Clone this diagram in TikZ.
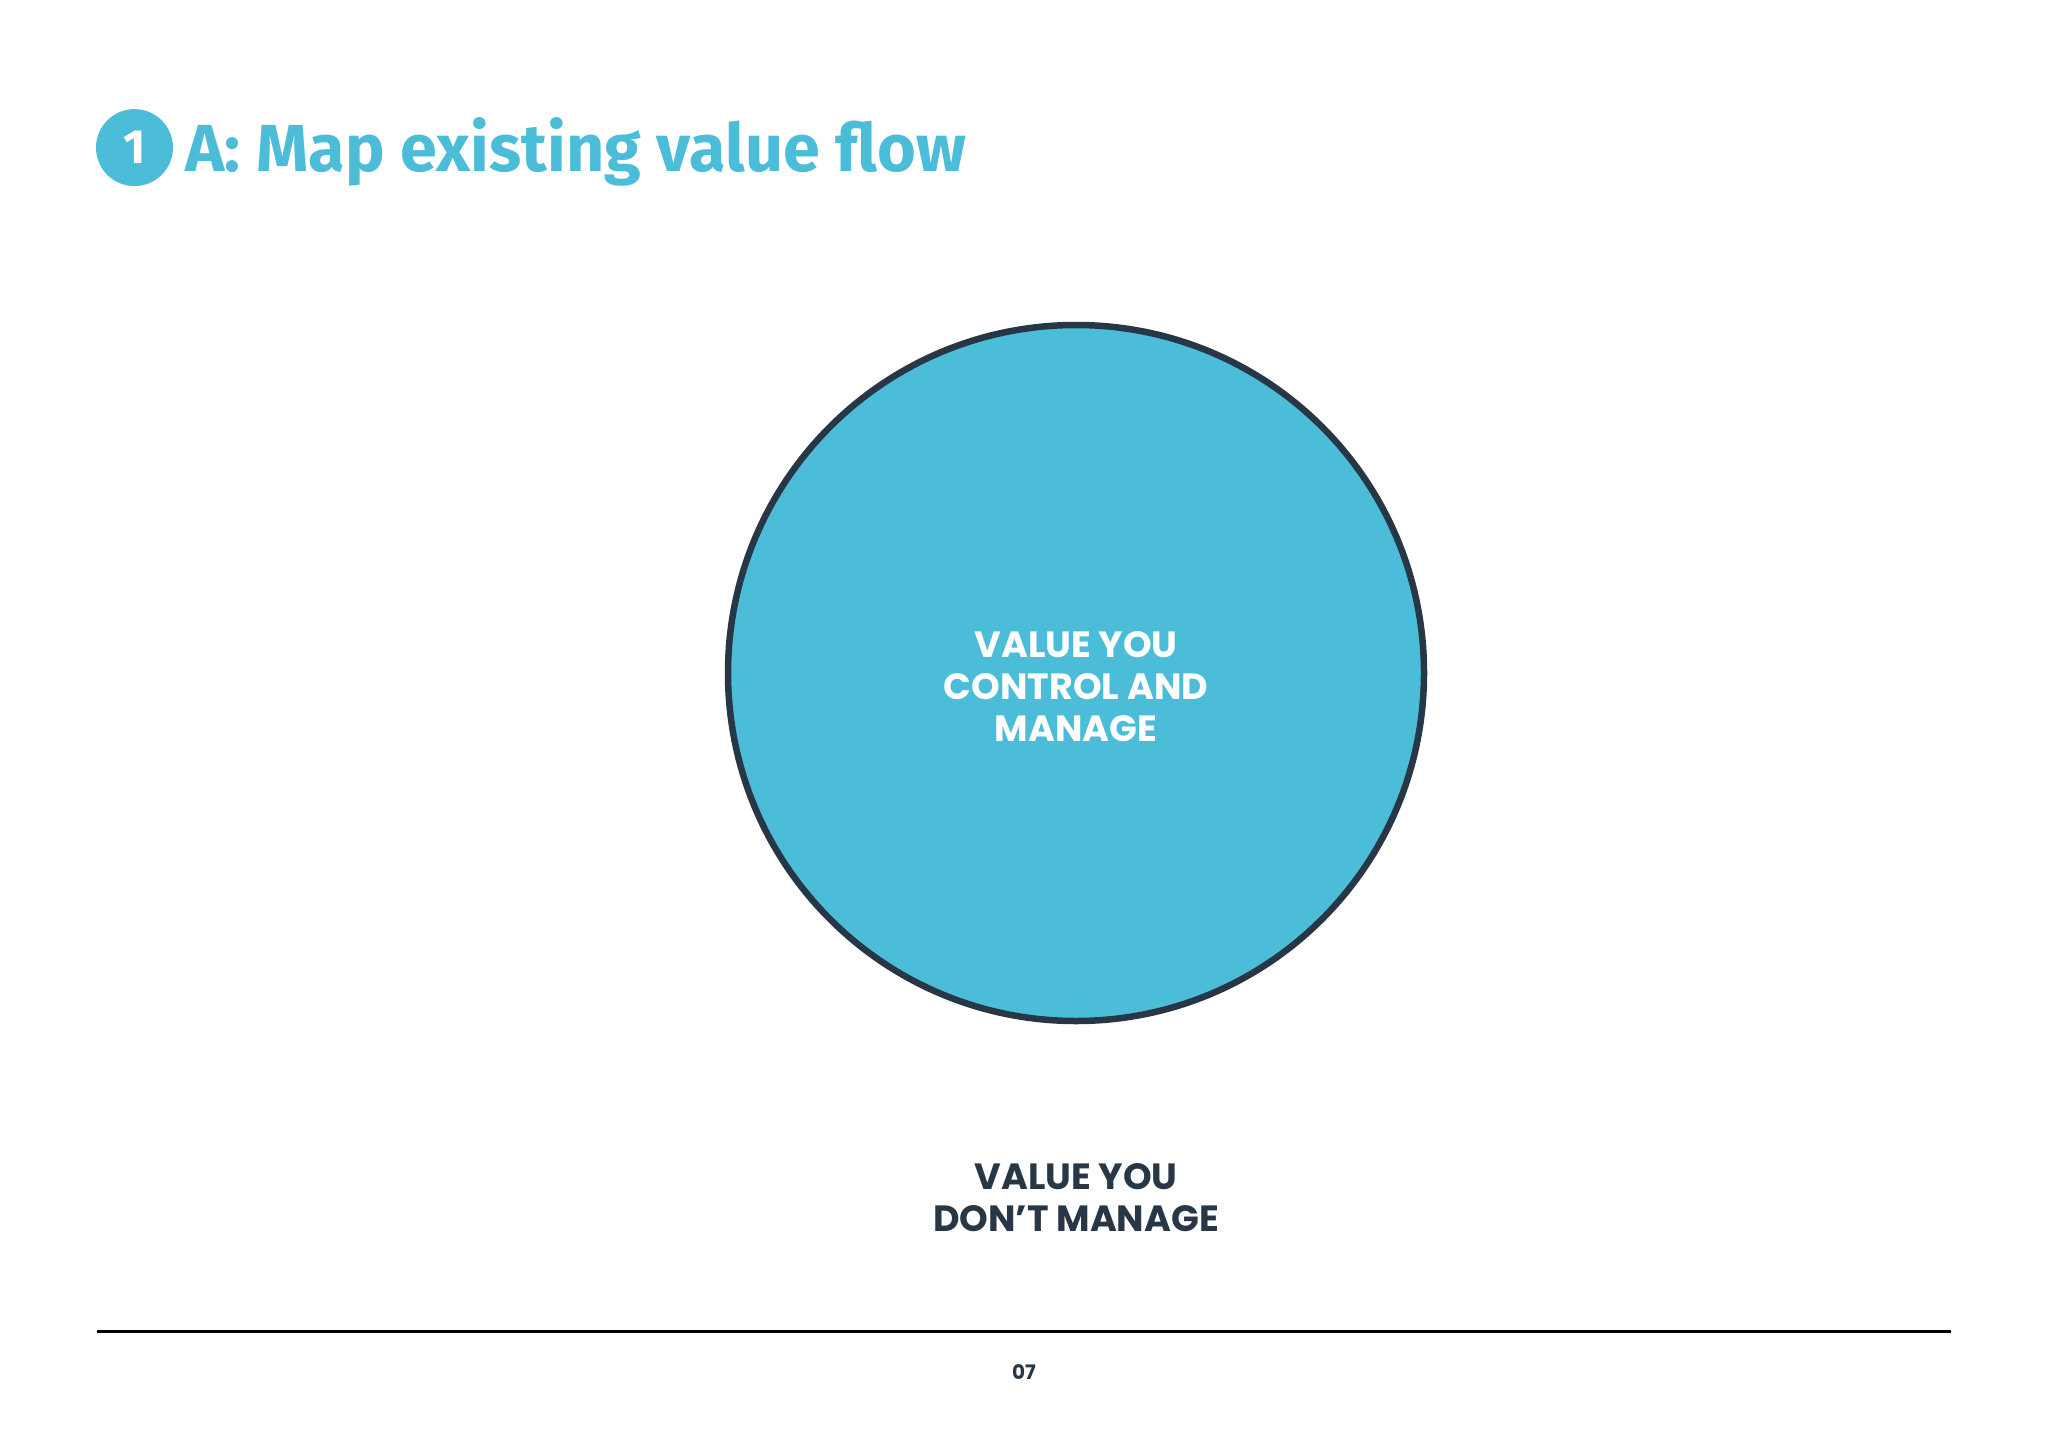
\documentclass[tikz,border=0pt]{standalone}
\usepackage{fontspec}
\newfontfamily\titlefont{Fira Sans}[UprightFont=* Bold]
\newfontfamily\bodyfont{Poppins}[UprightFont=* Bold]
\definecolor{cyanblue}{HTML}{4BBDD9}
\definecolor{navy}{HTML}{283746}
\tikzset{
  bigtext/.style={font=\bodyfont\fontsize{36.5}{42}\selectfont, align=center, inner sep=0pt},
}
\begin{document}
\begin{tikzpicture}[x=1pt,y=-1pt]
\useasboundingbox[fill=white] (0,0) rectangle (2048,1448);
% title
\node[circle, fill=cyanblue, minimum size=77pt, inner sep=0pt, text=white, font=\titlefont\fontsize{48}{48}\selectfont] (num) at (134.5,147.6) {1};
\node[anchor=base west, inner sep=0pt, text=cyanblue, font=\titlefont\fontsize{66.5}{66.5}\selectfont] (title) at (185,171) {A: Map existing value flow};
% big circle
\node[circle, fill=cyanblue, draw=navy, line width=6.5pt, minimum size=696pt, inner sep=0pt] (big) at (1076,673) {};
\node[bigtext, text=white] (inner) at (1076,687) {VALUE YOU\\CONTROL AND\\MANAGE};
\node[bigtext, text=navy] (outer) at (1076,1198) {VALUE YOU\\DON’T MANAGE};
% footer
\coordinate (l1) at (97,1331);
\coordinate (l2) at (1951,1331);
\draw[line width=3pt, black] (l1) -- (l2);
\node[text=navy, font=\bodyfont\fontsize{20}{20}\selectfont, inner sep=0pt] (page) at (1024,1372) {07};
\end{tikzpicture}
\end{document}
